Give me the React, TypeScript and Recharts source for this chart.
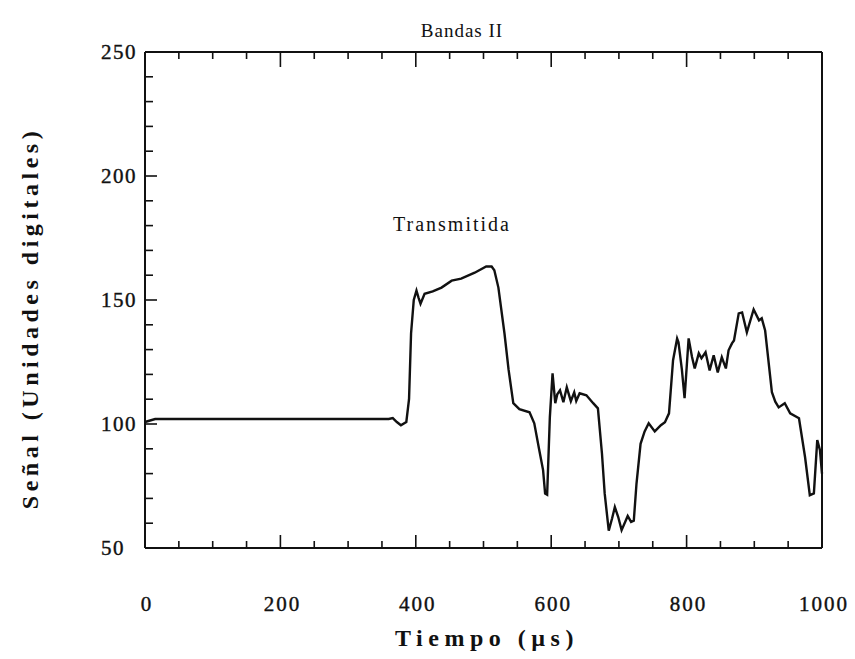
import { LineChart, Line, XAxis, YAxis } from "recharts";

// tiempo (µs) y señal (unidades digitales)
const tiempo = [
  0, 15, 100, 200, 300, 360, 366, 372, 378, 386, 390, 393, 397, 401, 404, 407,
  413, 425, 438, 453, 467, 487, 504, 512, 516, 522, 531, 537, 544, 553, 568,
  575, 582, 588, 591, 594, 598, 602, 606, 609, 613, 618, 623, 629, 634, 637,
  642, 652, 662, 669, 675, 679, 685, 690, 694, 699, 704, 710, 713, 718, 722,
  726, 732, 738, 744, 753, 762, 768, 774, 780, 786, 788, 793, 797, 803, 808,
  812, 818, 822, 828, 834, 840, 846, 852, 858, 862, 867, 870, 877, 882, 889,
  899, 907, 911, 916, 926, 931, 936, 945, 953, 966, 975, 982, 988, 993, 997,
  1000,
];
const senal = [
  100.8, 102, 102, 102, 102, 102, 102.4, 100.8, 99.5, 100.8, 110, 136.5, 150,
  153.8, 151, 148.5, 152.5, 153.5, 155, 157.8, 158.6, 161, 163.5, 163.5, 162,
  155, 136.5, 122, 108.4, 106, 104.7, 100.3, 90, 81.4, 72, 71.5, 102.7, 120.4,
  108.4, 112, 113.6, 108.8, 114.8, 109.2, 112.8, 109.3, 112.4, 111.6, 108.4,
  106.3, 88, 72, 57, 62, 66.5, 62.5, 57.2, 61, 62.9, 60.5, 61, 76, 92, 97,
  100.3, 97, 99.5, 100.7, 104.3, 125.7, 134.5, 133, 122, 110.4, 134.5, 127,
  122.4, 128.5, 126.5, 128.9, 121.6, 127.7, 120.8, 126.9, 122.4, 129.7, 132.5,
  133.7, 144.6, 145, 137, 146.2, 141.8, 142.6, 137.7, 112.8, 109, 106.7, 108.4,
  104.3, 102.3, 86.6, 71.3, 72, 93.5, 89.4, 80,
];

const xTicks = [
  0, 50, 100, 150, 200, 250, 300, 350, 400, 450, 500, 550, 600, 650, 700, 750,
  800, 850, 900, 950, 1000,
];
const xLabels = [0, 200, 400, 600, 800, 1000];
const yTicks = [
  50, 60, 70, 80, 90, 100, 110, 120, 130, 140, 150, 160, 170, 180, 190, 200,
  210, 220, 230, 240, 250,
];
const yLabels = [50, 100, 150, 200, 250];

const data = tiempo.map((t, i) => ({ t, v: senal[i] }));

const SERIF = '"Liberation Serif", "Times New Roman", serif';
const INK = "#111";

const BottomTick = (props: any) => {
  const { x, y, payload } = props;
  const major = xLabels.includes(payload.value);
  return (
    <g>
      <line x1={x} y1={y} x2={x} y2={y - (major ? 13 : 7)} stroke={INK} strokeWidth={1.6} />
      {major && (
        <text x={x + 2} y={y + 63} textAnchor="middle" fontFamily={SERIF} fontSize={21} letterSpacing={2}
          fill={INK} stroke={INK} strokeWidth={0.4}>
          {payload.value}
        </text>
      )}
    </g>
  );
};

const TopTick = (props: any) => {
  const { x, y, payload } = props;
  const major = xLabels.includes(payload.value);
  return <line x1={x} y1={y} x2={x} y2={y + (major ? 15 : 7)} stroke={INK} strokeWidth={1.6} />;
};

const LeftTick = (props: any) => {
  const { x, y, payload } = props;
  const major = yLabels.includes(payload.value);
  return (
    <g>
      <line x1={x} y1={y} x2={x + (major ? 12 : 8)} y2={y} stroke={INK} strokeWidth={1.6} />
      {major && (
        <text x={101} y={y + 7} textAnchor="start" fontFamily={SERIF} fontSize={21} letterSpacing={1.5}
          fill={INK} stroke={INK} strokeWidth={0.4}>
          {payload.value}
        </text>
      )}
    </g>
  );
};

const RightTick = (props: any) => {
  const { x, y, payload } = props;
  const major = yLabels.includes(payload.value);
  return <line x1={x} y1={y} x2={x - (major ? 12 : 8)} y2={y} stroke={INK} strokeWidth={1.6} />;
};

export default function App() {
  return (
    <div style={{ position: "absolute", left: 0, top: 0, width: 855, height: 659, background: "#fff" }}>
      <LineChart width={855} height={659} data={data} margin={{ top: 0, right: 0, bottom: 0, left: 0 }}>
        <XAxis
          dataKey="t"
          type="number"
          domain={[0, 1000]}
          ticks={xTicks}
          interval={0}
          height={111}
          tickSize={0}
          tickMargin={0}
          tickLine={false}
          axisLine={{ stroke: INK, strokeWidth: 2 }}
          tick={<BottomTick />}
        />
        <XAxis
          xAxisId="top"
          orientation="top"
          dataKey="t"
          type="number"
          domain={[0, 1000]}
          ticks={xTicks}
          interval={0}
          height={52}
          tickSize={0}
          tickMargin={0}
          tickLine={false}
          axisLine={{ stroke: INK, strokeWidth: 2 }}
          tick={<TopTick />}
        />
        <YAxis
          type="number"
          domain={[50, 250]}
          ticks={yTicks}
          interval={0}
          width={145}
          tickSize={0}
          tickMargin={0}
          tickLine={false}
          axisLine={{ stroke: INK, strokeWidth: 2 }}
          tick={<LeftTick />}
        />
        <YAxis
          yAxisId="right"
          orientation="right"
          type="number"
          domain={[50, 250]}
          ticks={yTicks}
          interval={0}
          width={33}
          tickSize={0}
          tickMargin={0}
          tickLine={false}
          axisLine={{ stroke: INK, strokeWidth: 2 }}
          tick={<RightTick />}
        />
        <Line
          dataKey="v"
          type="linear"
          stroke={INK}
          strokeWidth={2.4}
          dot={false}
          isAnimationActive={false}
        />
      </LineChart>
      <svg width={855} height={659} style={{ position: "absolute", left: 0, top: 0, pointerEvents: "none" }}>
        <text x={462} y={37} textAnchor="middle" fontFamily={SERIF} fontSize={19} letterSpacing={1} fill={INK}>
          Bandas II
        </text>
        <text x={452} y={231} textAnchor="middle" fontFamily={SERIF} fontSize={20} letterSpacing={2} fill={INK}>
          Transmitida
        </text>
        <text x={487} y={646} textAnchor="middle" fontFamily={SERIF} fontSize={24} fontWeight="bold" letterSpacing={5.5} fill={INK}>
          Tiempo  (µs)
        </text>
        <text
          transform="translate(38, 318) rotate(-90)"
          textAnchor="middle"
          fontFamily={SERIF}
          fontSize={24}
          fontWeight="bold"
          letterSpacing={4.5}
          fill={INK}
        >
          Señal  (Unidades  digitales)
        </text>
      </svg>
    </div>
  );
}
